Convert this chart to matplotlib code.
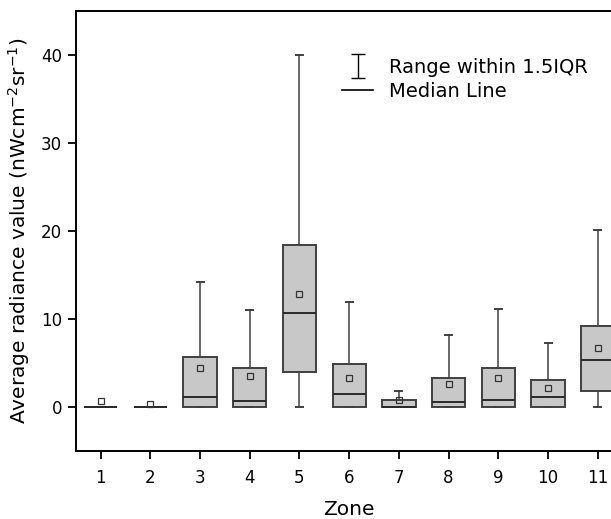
import matplotlib
matplotlib.use("Agg")
import matplotlib.pyplot as plt
from matplotlib.legend_handler import HandlerErrorbar
import numpy as np

plt.rcParams['font.family'] = ['DejaVu Sans']
plt.rcParams['mathtext.fontset'] = 'dejavusans'

# radiance statistics per zone
zones = [1, 2, 3, 4, 5, 6, 7, 8, 9, 10, 11]
q1 = [0, 0, 0, 0, 4.0, 0, 0, 0, 0, 0, 1.85]
med = [0, 0, 1.1, 0.72, 10.7, 1.47, 0, 0.6, 0.8, 1.13, 5.33]
q3 = [0, 0, 5.7, 4.45, 18.4, 4.87, 0.8, 3.25, 4.45, 3.06, 9.18]
whislo = [0, 0, 0, 0, 0, 0, 0, 0, 0, 0, 0]
whishi = [0, 0, 14.2, 11.07, 40.0, 11.9, 1.8, 8.15, 11.1, 7.3, 20.1]
means = [0.7, 0.35, 4.4, 3.55, 12.8, 3.3, 0.75, 2.6, 3.3, 2.15, 6.7]

stats = []
for i in range(len(zones)):
    stats.append(dict(label=str(zones[i]), q1=q1[i], med=med[i], q3=q3[i],
                      whislo=whislo[i], whishi=whishi[i], mean=means[i]))

fig = plt.figure(figsize=(6.11, 5.19), dpi=100)
ax = fig.add_axes([0.124, 0.131, 0.895, 0.848])

edge = '#404040'
ax.bxp(stats, positions=zones, widths=0.67, capwidths=0.14,
       showmeans=True, showfliers=False, patch_artist=True,
       boxprops=dict(facecolor='#c8c8c8', edgecolor=edge, linewidth=1.4),
       medianprops=dict(color='#2a2a2a', linewidth=1.4),
       whiskerprops=dict(color=edge, linewidth=1.1),
       capprops=dict(color=edge, linewidth=1.4),
       meanprops=dict(marker='s', markerfacecolor='none',
                      markeredgecolor='#333333', markersize=4,
                      markeredgewidth=0.9))

ax.set_xlim(0.5, 11.5)
ax.set_ylim(-5, 45)
ax.set_yticks([0, 10, 20, 30, 40])
ax.set_xticks(zones)
ax.set_xticklabels([str(z) for z in zones])
for s in ax.spines.values():
    s.set_linewidth(1.4)
ax.tick_params(axis='both', direction='out', length=6, width=1.3,
               labelsize=12)
ax.tick_params(axis='x', pad=7)
ax.tick_params(axis='y', pad=4)

ax.set_xlabel('Zone', fontsize=14.5, labelpad=9)
ax.set_ylabel('Average radiance value (nWcm$^{-2}$sr$^{-1}$)', fontsize=14.5,
              labelpad=6)

eb = ax.errorbar([np.nan], [np.nan], yerr=[1], fmt='none', ecolor='black',
                 elinewidth=1.0, capsize=5, capthick=1.0,
                 label='Range within 1.5IQR')
ml, = ax.plot([], [], color='black', linewidth=1.2, label='Median Line')
ax.legend(handles=[eb, ml], loc='upper left',
          bbox_to_anchor=(342 / 611, 1 - 58 / 519),
          bbox_transform=fig.transFigure, frameon=False, fontsize=14,
          handlelength=1.6, handletextpad=0.8, labelspacing=0.25,
          borderpad=0, borderaxespad=0,
          handler_map={type(eb): HandlerErrorbar(yerr_size=0.62)})

fig.savefig('out.png', dpi=100)
